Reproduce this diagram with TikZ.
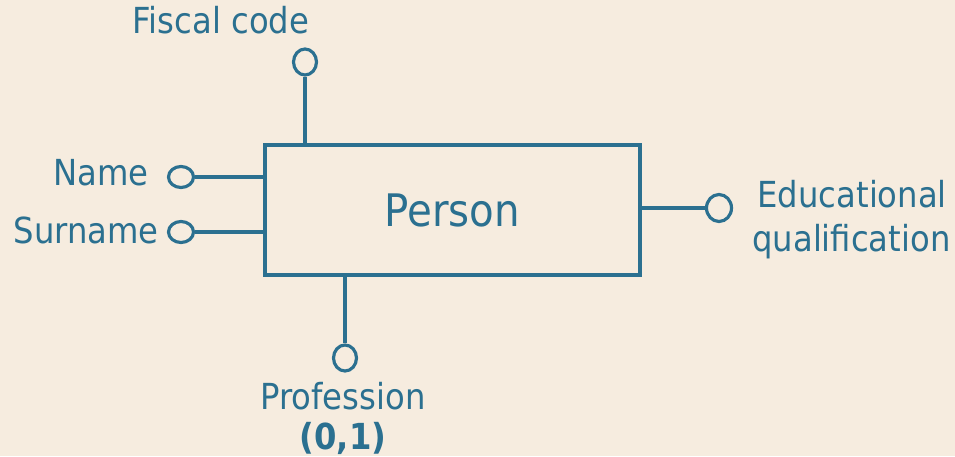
\documentclass[tikz,border=0pt]{standalone}
\usepackage{fontspec}
\setmainfont{DejaVu Sans Condensed}
\usepackage{tikz}
\usepackage{xcolor}
\usetikzlibrary{
    shapes.geometric,
    positioning
}
\definecolor{paper}{HTML}{F6ECDF}
\definecolor{ink}{HTML}{2B7090}
\tikzset{
    entity/.style={draw=ink, line width=1.8pt, minimum width=7.5cm, minimum height=2.6cm, inner sep=0pt, text=ink, font=\fontsize{25.5}{30}\selectfont},
    attr/.style={ellipse, draw=ink, line width=1.8pt, inner sep=0pt},
    hattr/.style={attr, minimum width=0.5cm, minimum height=0.42cm},
    vattr/.style={attr, minimum width=0.46cm, minimum height=0.52cm},
    label/.style={text=ink, inner sep=0pt, font=\fontsize{20.4}{25}\selectfont},
    link/.style={draw=ink, line width=1.8pt}
}

\begin{document}
\begin{tikzpicture}[x=0.02cm, y=-0.02cm]
    \fill[paper] (0, 0) rectangle (955, 456);
    \node[entity] (person) at (452.5, 210) {Person};
    % attribute circles
    \node[vattr] (fiscal) at (305, 62) {};
    \node[hattr] (name) at (181, 177) {};
    \node[hattr] (surname) at (181, 232) {};
    \node[vattr] (prof) at (345, 358) {};
    \node[attr, minimum width=0.5cm, minimum height=0.54cm] (edu) at (719, 208) {};
    % connectors
    \draw[link] (fiscal) -- (fiscal |- person.north);
    \draw[link] (name) -- (name -| person.west);
    \draw[link] (surname) -- (surname -| person.west);
    \draw[link] (prof) -- (prof |- person.south);
    \draw[link] (edu) -- (edu -| person.east);
    % labels
    \node[label] (fiscallbl) at (221, 20) {Fiscal code};
    \node[label, anchor=east] (namelbl) at (149, 173) {Name};
    \node[label, anchor=east] (surnamelbl) at (159, 230) {Surname};
    \node[label] (proflbl) at (343, 396) {Profession};
    \node[label, font=\fontsize{20.4}{25}\selectfont\bfseries] (card) at (343, 438) {(0,1)};
    \node[label, anchor=west, align=left] (edulbl) at (752, 220) {\hspace{3pt}Educational\\qualification};
\end{tikzpicture}
\end{document}
